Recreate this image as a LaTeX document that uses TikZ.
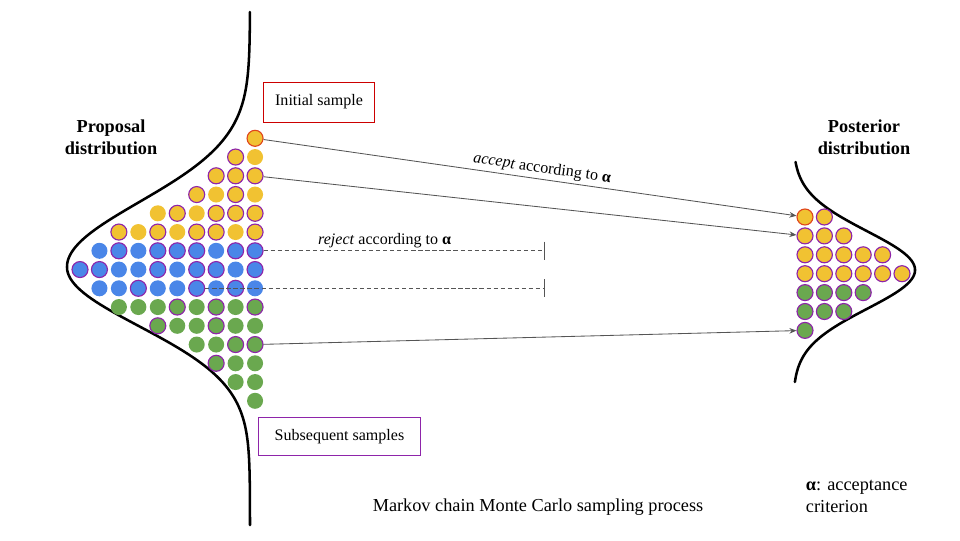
\documentclass[tikz,border=0pt]{standalone}
\usepackage{fontspec}
\setmainfont{Liberation Serif}
\usepackage{tikz}
\usetikzlibrary{arrows.meta}
\definecolor{sun}{HTML}{F1C232}
\definecolor{sky}{HTML}{4A86E8}
\definecolor{leaf}{HTML}{6AA84F}
\definecolor{plum}{HTML}{8E24AA}
\definecolor{brick}{HTML}{CC0000}
\definecolor{ember}{HTML}{E0451B}
\definecolor{ink}{HTML}{555555}
\tikzset{
  dot/.style={circle, minimum size=11.4pt, inner sep=0pt, line width=0.8pt},
  ring0/.style={draw=none},
  ring1/.style={draw=plum},
  firstdot/.style={dot, fill=sun, draw=ember},
  curveline/.style={line width=1.8pt, line cap=round},
  samplebox/.style={draw, line width=0.6pt, align=center, inner sep=0pt, font=\fontsize{11.4}{13.7}\selectfont},
  titletext/.style={align=center, font=\fontsize{13}{15.6}\selectfont\bfseries},
  plaintext/.style={align=left, font=\fontsize{13}{15.6}\selectfont},
  labeltext/.style={font=\fontsize{11.4}{13.7}\selectfont, inner sep=2pt},
  acceptarrow/.style={-{Stealth[length=5pt,width=4pt]}, draw=ink, line width=0.6pt},
  rejectline/.style={-{Bar[width=13pt]}, draw=ink, line width=0.6pt, dash pattern=on 3pt off 2pt}
}

\begin{document}
\begin{tikzpicture}[x=0.025cm, y=-0.025cm]
  \useasboundingbox (0,0) rectangle (960,540);
  % distributions
  \draw[curveline] plot[domain=12:267, samples=90, variable=\t]
      ({250-183*exp(-((\t-267)/100)*((\t-267)/100)/0.84)}, \t)
    -- plot[domain=267:525, samples=90, variable=\t]
      ({250-183*exp(-((\t-267)/100)*((\t-267)/100)/0.70)}, \t);
  \draw[curveline] plot[domain=162:382, samples=120, variable=\t]
    ({793+122*exp(-((\t-270)/100)*((\t-270)/100)/0.3016)}, \t);
  \node[titletext] (proposal) at (111,137) {Proposal\\distribution};
  \node[titletext] (posterior) at (864,137) {Posterior\\distribution};
  % proposal samples
  \node[firstdot] (l0-9) at ({80+19.45*9},138.3) {};
  \foreach \r/\c/\col/\marks in {
    1/8/sun/{1,0},
    2/7/sun/{1,1,1},
    3/6/sun/{1,0,1,0},
    4/4/sun/{0,1,0,1,1,1},
    5/2/sun/{1,0,1,0,1,1,0,1},
    6/1/sky/{0,1,0,1,1,1,0,1,1},
    7/0/sky/{1,1,0,0,1,0,1,1,0,1},
    8/1/sky/{0,0,1,0,0,1,0,1,0},
    9/2/leaf/{0,0,0,1,0,1,0,1},
    10/4/leaf/{1,0,0,1,0,0},
    11/6/leaf/{0,0,1,1},
    12/7/leaf/{1,0,0},
    13/8/leaf/{0,0},
    14/9/leaf/{0}}
    \foreach \m [count=\k from \c] in \marks
      \node[dot, fill=\col, ring\m] (l\r-\k) at ({80+19.45*\k},{138.3+18.75*\r}) {};
  % posterior samples
  \node[firstdot] (r0-1) at (805,217) {};
  \foreach \r/\a/\b/\col in {0/2/2/sun, 1/1/3/sun, 2/1/5/sun, 3/1/6/sun,
                             4/1/4/leaf, 5/1/3/leaf, 6/1/1/leaf}
    \foreach \k in {\a,...,\b}
      \node[dot, fill=\col, ring1] (r\r-\k) at ({805+19.4*(\k-1)},{217+18.9*\r}) {};
  % boxes and texts
  \node[samplebox, draw=brick, minimum width=79.4pt, minimum height=28.4pt] (initial) at (319,102) {Initial sample};
  \node[samplebox, draw=plum, minimum width=115.5pt, minimum height=27.6pt] (subsequent) at (339.5,436.5) {Subsequent samples};
  \node[plaintext, align=center] (process) at (538,507) {Markov chain Monte Carlo sampling process};
  \node[plaintext, anchor=west] (criterion) at (801,496) {\textbf{α}: acceptance\\criterion};
  % moves
  \coordinate (rej1) at (545,{138.3+18.75*6});
  \coordinate (rej2) at (545,{138.3+18.75*8});
  \draw[acceptarrow] (l0-9) -- node[labeltext, sloped, above, pos=0.52] {\textit{accept} according to \textbf{α}} (r0-1);
  \draw[acceptarrow] (l2-9) -- (r1-1);
  \draw[acceptarrow] (l11-9) -- (r6-1);
  \draw[rejectline] (l6-9) -- node[labeltext, above, pos=0.43] {\textit{reject} according to \textbf{α}} (rej1);
  \draw[rejectline] (l8-6) -- (rej2);
\end{tikzpicture}
\end{document}
